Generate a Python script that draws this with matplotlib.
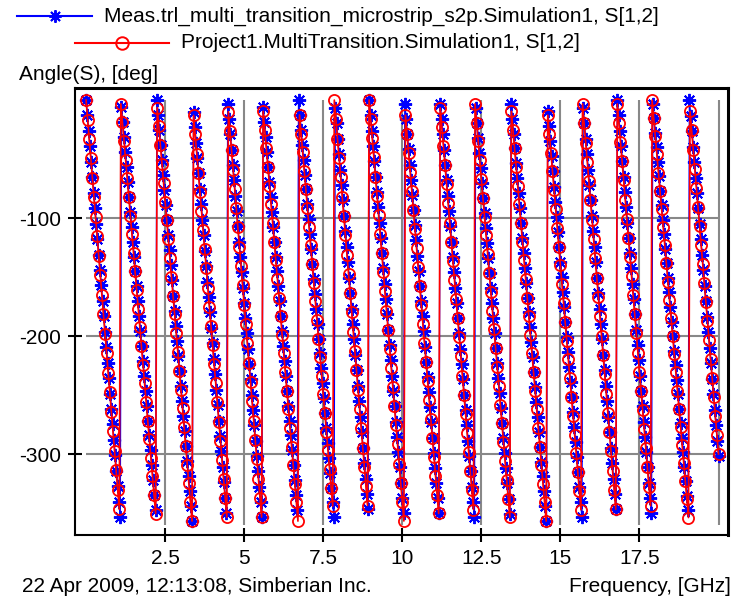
import numpy as np
import matplotlib.pyplot as plt
from matplotlib.lines import Line2D

# frequencies (GHz) where each curve jumps from -360 back to 0
meas_wraps = [1.10, 2.24, 3.37, 4.47, 5.58, 6.72, 7.86, 8.96, 10.07, 11.19,
              12.30, 13.43, 14.57, 15.70, 16.80, 17.91, 19.08]
sim_wraps = [1.09, 2.23, 3.36, 4.47, 5.57, 6.71, 7.85, 8.95, 10.06, 11.18,
             12.29, 13.42, 14.56, 15.69, 16.79, 17.90, 19.07]
meas_end = -302.0   # phase at 20 GHz, deg
sim_end = -300.0
meas_step = 0.04    # GHz between samples
sim_step = 0.05

meas_name = 'Meas.trl_multi_transition_microstrip_s2p.Simulation1, S[1,2]'
sim_name = 'Project1.MultiTransition.Simulation1, S[1,2]'
xticks = [2.5, 5, 7.5, 10, 12.5, 15, 17.5]
xticklabels = ['2.5', '5', '7.5', '10', '12.5', '15', '17.5']
yticks = [-100, -200, -300]


def phase_curve(wraps, end_deg, step):
    f = np.arange(0, 20 + step / 2, step)
    kf = [0] + wraps + [20]
    kp = [0] + [-360 * (k + 1) for k in range(len(wraps))] + [-360 * len(wraps) + end_deg]
    unwrapped = np.interp(f, kf, kp)
    return f, -np.mod(-unwrapped, 360)


plt.rcParams['font.family'] = ['Liberation Sans', 'DejaVu Sans']
plt.rcParams['axes.unicode_minus'] = False
FS = 15
W, H = 741, 599
fig = plt.figure(figsize=(W / 100, H / 100), dpi=100)
ax = fig.add_axes([75 / W, 1 - 535 / H, (728 - 75) / W, (535 - 88) / H])

grid_c = '#888888'
ax.vlines(xticks + [20], -360, 0, color=grid_c, lw=1.5, zorder=1)
ax.hlines(yticks, 0, 20, color=grid_c, lw=1.5, zorder=1)

fm, pm = phase_curve(meas_wraps, meas_end, meas_step)
fs, ps = phase_curve(sim_wraps, sim_end, sim_step)
ax.plot(fm, pm, color='blue', lw=1.0, marker=(8, 2, 0), ms=9.5, mew=1.4, zorder=3)
ax.plot(fs, ps, color='red', lw=1.2, marker='o', ms=8, mfc='none', mew=1.3, zorder=4)

ax.set_xlim(-0.35, 20.3)
ax.set_ylim(-368.6, 10.2)
ax.set_xticks(xticks)
ax.set_xticklabels(xticklabels)
ax.set_yticks(yticks)
ax.tick_params(direction='inout', length=10, width=1.5, labelsize=FS, pad=5)
for s in ax.spines.values():
    s.set_linewidth(1.5)
ax.spines['top'].set_linewidth(2.2)
ax.spines['right'].set_linewidth(2.2)

# legend drawn by hand like the original header
def legend_row(x0, x1, y, color, marker, text):
    xm = (x0 + x1) / 2
    fig.add_artist(Line2D([x0 / W, x1 / W], [1 - y / H, 1 - y / H], color=color, lw=1.5,
                          transform=fig.transFigure))
    kw = dict(mfc='none') if marker == 'o' else {}
    fig.add_artist(Line2D([xm / W], [1 - y / H], color=color, marker=marker, ms=9, mew=1.4,
                          transform=fig.transFigure, **kw))
    fig.text((x1 + 12) / W, 1 - y / H, text, fontsize=FS, va='center', ha='left')

legend_row(17, 92, 16, 'blue', (8, 2, 0), meas_name)
legend_row(75, 169, 43, 'red', 'o', sim_name)

fig.text(19 / W, 1 - 75 / H, 'Angle(S), [deg]', fontsize=FS, va='center', ha='left')
fig.text(22 / W, 1 - 586 / H, '22 Apr 2009, 12:13:08, Simberian Inc.', fontsize=FS,
         va='center', ha='left')
fig.text(731 / W, 1 - 586 / H, 'Frequency, [GHz]', fontsize=FS, va='center', ha='right')

fig.savefig('out.png', dpi=100)
